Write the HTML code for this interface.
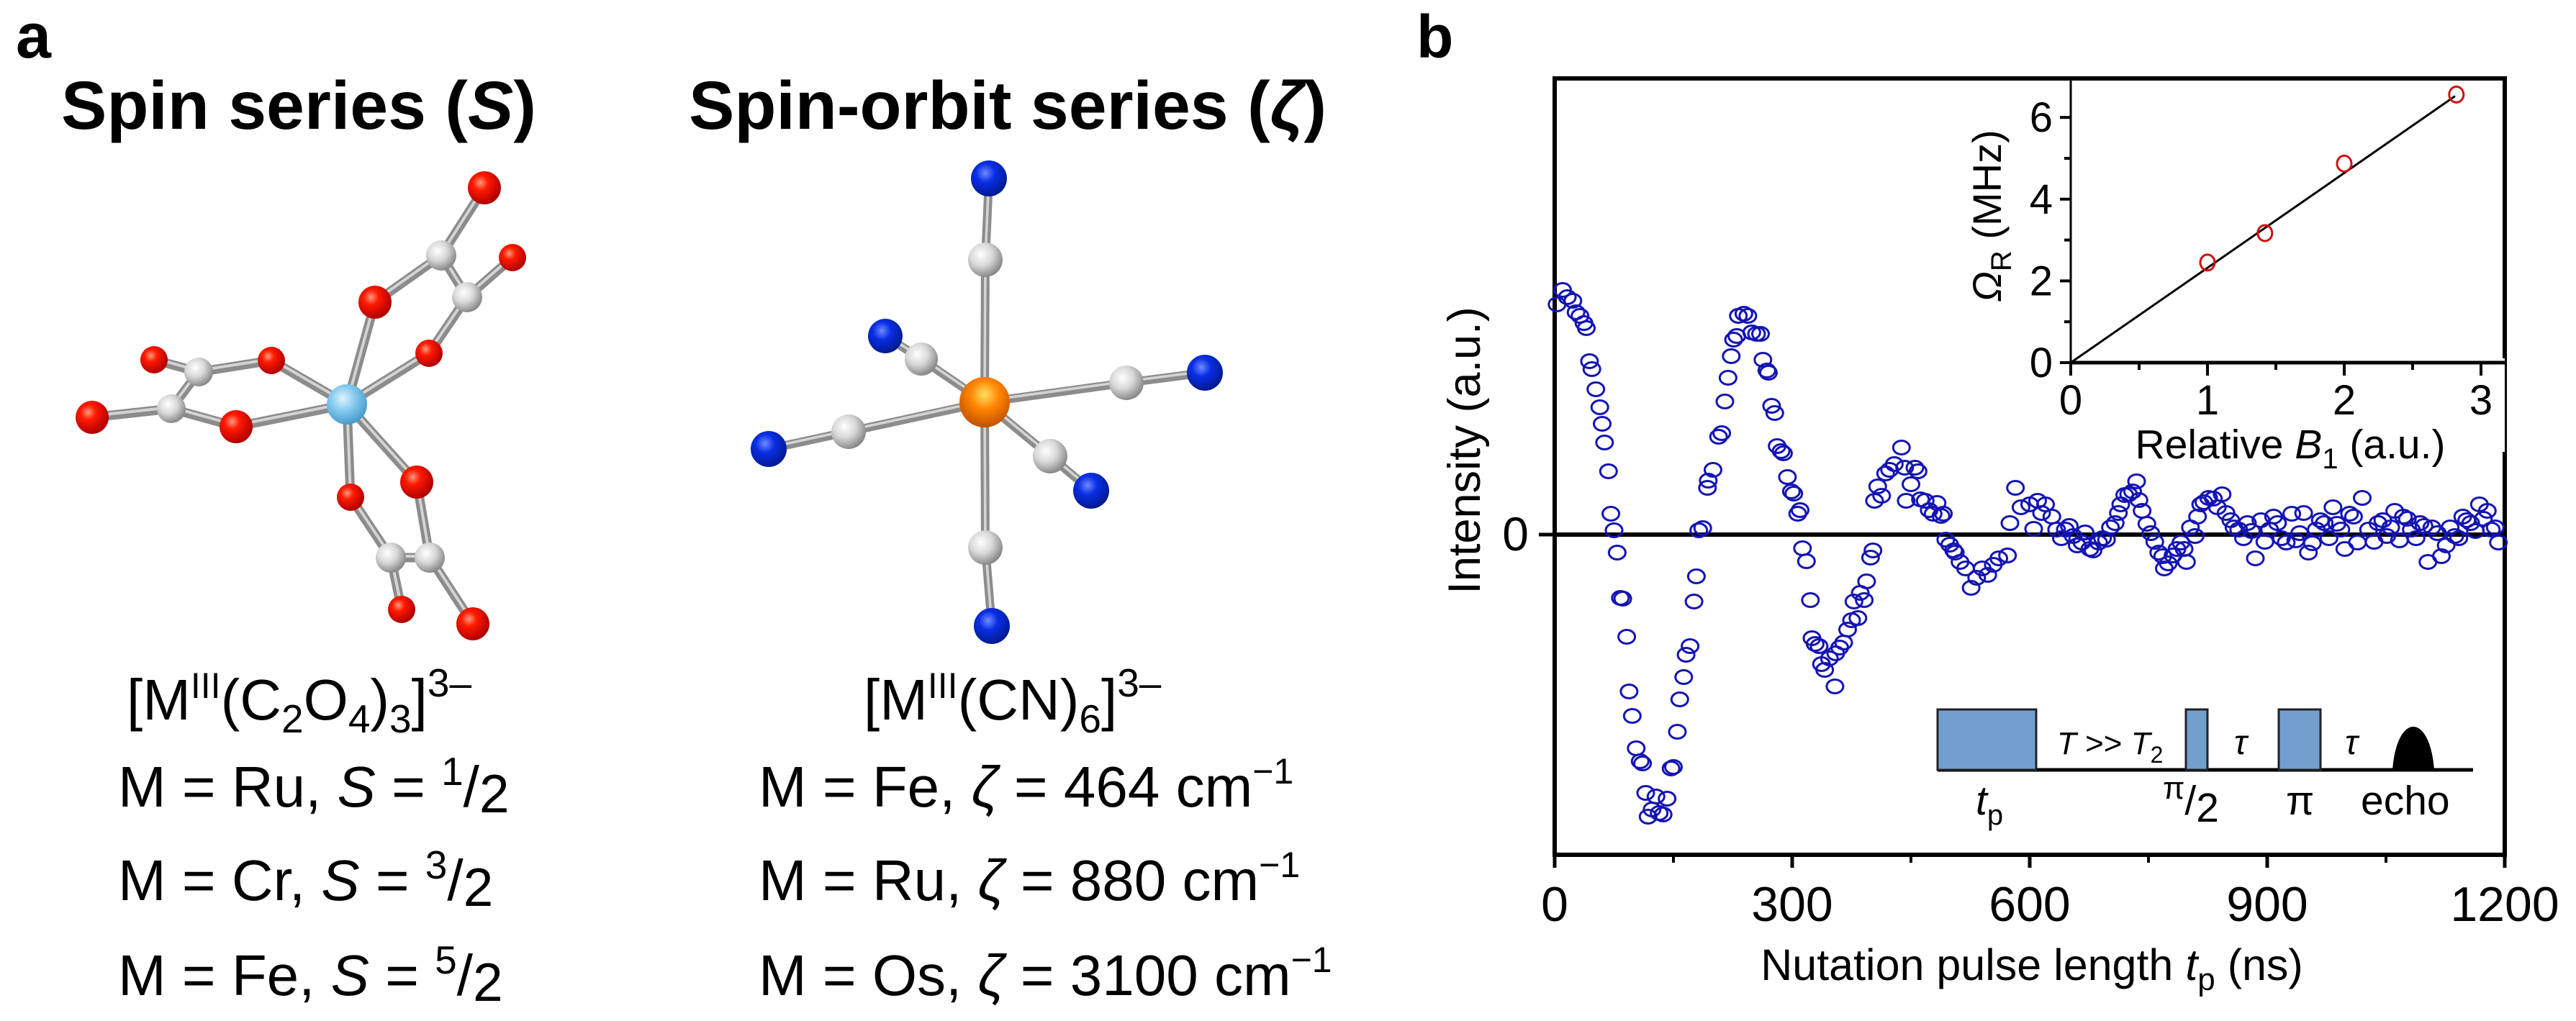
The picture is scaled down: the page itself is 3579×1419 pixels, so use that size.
<!DOCTYPE html>
<html>
<head>
<meta charset="utf-8">
<style>
html,body{margin:0;padding:0;background:#fff;}
svg{display:block;font-family:"Liberation Sans",Arial,sans-serif;}
</style>
</head>
<body>
<svg id="fig" xmlns="http://www.w3.org/2000/svg" width="3579" height="1419" viewBox="0 0 3579 1419">
<defs>
<radialGradient id="gO" cx="0.38" cy="0.35" r="0.65"><stop offset="0" stop-color="#ff9a80"/><stop offset="0.35" stop-color="#ff1a00"/><stop offset="1" stop-color="#b00000"/></radialGradient>
<radialGradient id="gC" cx="0.38" cy="0.35" r="0.65"><stop offset="0" stop-color="#ffffff"/><stop offset="0.5" stop-color="#d8d8d8"/><stop offset="1" stop-color="#8a8a8a"/></radialGradient>
<radialGradient id="gN" cx="0.4" cy="0.35" r="0.65"><stop offset="0" stop-color="#6f8cff"/><stop offset="0.4" stop-color="#0a2ee6"/><stop offset="1" stop-color="#001a90"/></radialGradient>
<radialGradient id="gRu" cx="0.4" cy="0.35" r="0.65"><stop offset="0" stop-color="#dff3ff"/><stop offset="0.5" stop-color="#80c8ee"/><stop offset="1" stop-color="#4a9ccc"/></radialGradient>
<radialGradient id="gFe" cx="0.5" cy="0.35" r="0.65"><stop offset="0" stop-color="#ffe060"/><stop offset="0.45" stop-color="#ff8400"/><stop offset="1" stop-color="#c05000"/></radialGradient>
</defs>

<!-- Panel a -->
<text x="22" y="80" font-size="88" font-weight="bold">a</text>
<text x="85" y="179" font-size="95" font-weight="bold">Spin series (<tspan font-style="italic">S</tspan>)</text>
<text x="957" y="179" font-size="95" font-weight="bold">Spin-orbit series (<tspan font-style="italic">ζ</tspan>)</text>

<g id="mol1"></g>
<g id="mol2"></g>

<g font-size="80">
<text x="176" y="1000">[M<tspan font-size="50" dy="-30">III</tspan><tspan dy="30">(C</tspan><tspan font-size="55" dy="18">2</tspan><tspan dy="-18">O</tspan><tspan font-size="55" dy="18">4</tspan><tspan dy="-18">)</tspan><tspan font-size="55" dy="18">3</tspan><tspan dy="-18">]</tspan><tspan font-size="55" dy="-32">3–</tspan></text>
<text x="164" y="1121">M = Ru, <tspan font-style="italic">S</tspan> = <tspan font-size="55" dy="-30">1</tspan><tspan dy="30">/</tspan><tspan font-size="75" dy="8">2</tspan></text>
<text x="164" y="1251">M = Cr,  <tspan font-style="italic">S</tspan> = <tspan font-size="55" dy="-30">3</tspan><tspan dy="30">/</tspan><tspan font-size="75" dy="8">2</tspan></text>
<text x="164" y="1383">M = Fe, <tspan font-style="italic">S</tspan> = <tspan font-size="55" dy="-30">5</tspan><tspan dy="30">/</tspan><tspan font-size="75" dy="8">2</tspan></text>
</g>
<g font-size="80">
<text x="1200" y="1000">[M<tspan font-size="50" dy="-30">III</tspan><tspan dy="30">(CN)</tspan><tspan font-size="55" dy="18">6</tspan><tspan dy="-18">]</tspan><tspan font-size="55" dy="-32">3–</tspan></text>
<text x="1054" y="1121">M = Fe, <tspan font-style="italic">ζ</tspan> = 464 cm<tspan font-size="50" dy="-32">−1</tspan></text>
<text x="1054" y="1251">M = Ru, <tspan font-style="italic">ζ</tspan> = 880 cm<tspan font-size="50" dy="-32">−1</tspan></text>
<text x="1054" y="1383">M = Os, <tspan font-style="italic">ζ</tspan> = 3100 cm<tspan font-size="50" dy="-32">−1</tspan></text>
</g>

<!-- Panel b -->
<text x="1968" y="80" font-size="84" font-weight="bold">b</text>
<g id="mainPlot"></g>
<g id="insetPlot"></g>

<text x="2823" y="1362" font-size="61" text-anchor="middle">Nutation pulse length <tspan font-style="italic">t</tspan><tspan font-size="44" dy="14">p</tspan><tspan dy="-14"> (ns)</tspan></text>
<text x="2056" y="626" font-size="63" text-anchor="middle" transform="rotate(-90 2056 626)">Intensity (a.u.)</text>
<text x="2780" y="300" font-size="56" text-anchor="middle" transform="rotate(-90 2780 300)"><tspan font-style="italic">Ω</tspan><tspan font-size="40" dy="14">R</tspan><tspan dy="-14"> (MHz)</tspan></text>
<text x="3182" y="637" font-size="57" text-anchor="middle">Relative <tspan font-style="italic">B</tspan><tspan font-size="40" dy="14">1</tspan><tspan dy="-14"> (a.u.)</tspan></text>

<g id="pulseSeq">
<line x1="2692" y1="1070" x2="3436" y2="1070" stroke="#000" stroke-width="5"/>
<rect x="2692" y="986" width="137" height="84" fill="#739fcf" stroke="#222" stroke-width="3"/>
<rect x="3037" y="986" width="30" height="84" fill="#739fcf" stroke="#222" stroke-width="3"/>
<rect x="3166" y="986" width="58" height="84" fill="#739fcf" stroke="#222" stroke-width="3"/>
<path d="M3324 1070 C3330 990 3376 990 3382 1070 Z" fill="#000"/>
<text x="2858" y="1048" font-size="44"><tspan font-style="italic">T</tspan> &gt;&gt; <tspan font-style="italic">T</tspan><tspan font-size="32" dy="12">2</tspan></text>
<text x="3104" y="1048" font-size="48" font-style="italic">τ</text>
<text x="3258" y="1048" font-size="48" font-style="italic">τ</text>
<text x="2745" y="1132" font-size="57"><tspan font-style="italic">t</tspan><tspan font-size="40" dy="14">p</tspan></text>
<text x="3005" y="1132" font-size="57"><tspan font-size="44" dy="-22">π</tspan><tspan dy="22">/</tspan><tspan dy="10">2</tspan></text>
<text x="3176" y="1132" font-size="57">π</text>
<text x="3280" y="1132" font-size="57">echo</text>
</g>

<script>
// ---------- main nutation data ----------
const pulseLengthNs = [3,10,16,23,27,32,37,40,44,47,52,57,60,63,68,71,75,79,83,86,91,94,98,103,108,111,115,118,123,128,132,137,142,147,150,155,158,163,166,171,176,179,182,187,193,194,200,207,211,215,219,223,226,230,232,239,244,249,255,260,263,268,270,274,278,281,286,289,294,299,302,307,310,313,318,323,325,329,334,337,341,347,354,355,360,365,370,375,378,383,386,391,394,399,402,404,408,413,418,423,429,438,442,444,450,455,459,462,468,473,478,483,488,491,494,499,504,506,512,519,526,533,540,547,554,561,572,575,582,589,600,605,610,615,620,628,634,640,645,650,655,660,666,670,676,680,687,692,697,702,708,712,715,720,725,730,735,738,742,748,753,758,763,768,770,775,781,786,791,795,798,803,809,812,816,820,826,832,837,843,848,854,858,864,870,875,880,885,892,897,903,908,913,918,924,931,936,941,946,952,957,962,967,972,978,983,988,993,998,1004,1009,1014,1020,1028,1035,1040,1046,1051,1056,1061,1067,1072,1077,1082,1088,1093,1098,1103,1108,1115,1120,1126,1131,1137,1142,1147,1152,1157,1163,1168,1173,1178,1183,1188,1192,1195];
const intensity = [320,340,330,325,309,304,294,287,241,230,202,177,154,128,88,29,6,-25,-88,-89,-142,-218,-252,-297,-315,-318,-359,-392,-382,-364,-387,-389,-367,-325,-323,-274,-229,-198,-167,-155,-93,-58,6,9,65,75,90,136,141,185,218,248,271,276,304,307,304,281,279,279,243,228,225,179,169,123,116,113,80,60,57,29,34,-19,-37,-91,-144,-152,-155,-180,-188,-172,-211,-165,-157,-150,-132,-119,-93,-116,-81,-91,-65,-32,-22,47,67,54,85,90,98,121,93,47,70,93,88,49,47,34,29,44,26,29,-7,-14,-22,-25,-38,-47,-74,-60,-47,-56,-42,-33,-29,16,65,38,42,8,47,30,42,25,7,-5,7,12,-2,-15,-11,3,-20,-22,-11,-5,-7,10,16,30,42,55,56,60,74,48,33,15,2,-10,-25,-30,-47,-40,-29,-20,-11,-20,-38,10,-2,25,42,45,51,50,38,56,30,20,10,7,-5,16,5,-33,20,-10,7,25,16,-5,-11,29,-8,2,30,-25,-12,7,20,16,-5,38,15,7,-20,29,25,-11,51,7,-10,16,20,-2,10,33,-8,25,22,7,-5,16,12,-38,10,2,-30,-15,10,-2,-5,25,20,16,5,42,22,33,7,10,-11];
const xTickValues = [0,300,600,900,1200];
const xTickLabels = ["0","300","600","900","1200"];
const xMinorTicks = [150,450,750,1050];

// ---------- inset data ----------
const relativeB1 = [1.0,1.42,2.0,2.82];
const rabiFreqMHz = [2.45,3.17,4.87,6.56];
const fitB1 = [0,2.81];
const fitFreq = [0,6.52];
const insetXTicks = [0,1,2,3];
const insetXMinor = [0.5,1.5,2.5];
const insetYTicks = [0,2,4,6];
const insetYMinor = [1,3,5];

const NS = "http://www.w3.org/2000/svg";
function mk(tag, attrs, parent){
  const e = document.createElementNS(NS, tag);
  for (const k in attrs) e.setAttribute(k, attrs[k]);
  parent.appendChild(e);
  return e;
}

// main axes
const X0 = 2160, X1 = 3480, Y0 = 743, TOP = 109, BOT = 1188;
function xMain(t){ return X0 + t * (X1 - X0) / 1200; }
function yMain(v){ return Y0 - v; }

const mp = document.getElementById('mainPlot');
let el;
el = mk('rect', {x:X0, y:TOP, width:X1-X0, height:BOT-TOP, fill:'none', stroke:'#000', 'stroke-width':6}, mp);


el = mk('line', {x1:X0, y1:yMain(0), x2:X1, y2:yMain(0), stroke:'#000', 'stroke-width':6}, mp);


el = mk('line', {x1:X0-22, y1:yMain(0), x2:X0, y2:yMain(0), stroke:'#000', 'stroke-width':5}, mp);


el = mk('text', {x:2124, y:yMain(0)+22, 'font-size':66, 'text-anchor':'end'}, mp);
el.textContent = '0';



xTickValues.forEach((t, i) => {
  const tk = mk('line', {x1:xMain(t), y1:BOT, x2:xMain(t), y2:BOT+18, stroke:'#000', 'stroke-width':5}, mp);
  
  
  const lb = mk('text', {x:xMain(t), y:1280, 'font-size':68, 'text-anchor':'middle'}, mp);
  lb.textContent = xTickLabels[i];
  
  
});
xMinorTicks.forEach(t => {
  const tk = mk('line', {x1:xMain(t), y1:BOT, x2:xMain(t), y2:BOT+11, stroke:'#000', 'stroke-width':4}, mp);
  
  
});

const nPts = Math.min(pulseLengthNs.length, intensity.length);
for (let i = 0; i < nPts; i++) {
  const p = mk('ellipse', {cx:xMain(pulseLengthNs[i]), cy:yMain(intensity[i]), rx:11.5, ry:9.5, fill:'none', stroke:'#1414b4', 'stroke-width':3}, mp);
  
  
}

// inset
const IX0 = 2877, IXS = 190, IY0 = 504, IYS = 56.8;
function xIn(b){ return IX0 + b * IXS; }
function yIn(f){ return IY0 - f * IYS; }
const ip = document.getElementById('insetPlot');
el = mk('rect', {x:IX0-10, y:IY0-6, width:X1-IX0+10, height:130, fill:'#fff'}, ip);


el = mk('line', {x1:IX0, y1:TOP, x2:IX0, y2:IY0, stroke:'#000', 'stroke-width':3}, ip);


el = mk('line', {x1:IX0, y1:IY0, x2:X1, y2:IY0, stroke:'#000', 'stroke-width':5}, ip);


insetXTicks.forEach(b => {
  const tk = mk('line', {x1:xIn(b), y1:IY0, x2:xIn(b), y2:IY0+18, stroke:'#000', 'stroke-width':4}, ip);
  
  
  const lb = mk('text', {x:xIn(b), y:576, 'font-size':58, 'text-anchor':'middle'}, ip);
  lb.textContent = String(b);
  
  
});
insetXMinor.forEach(b => {
  const tk = mk('line', {x1:xIn(b), y1:IY0, x2:xIn(b), y2:IY0+10, stroke:'#000', 'stroke-width':4}, ip);
  
  
});
insetYTicks.forEach(f => {
  const tk = mk('line', {x1:IX0-15, y1:yIn(f), x2:IX0, y2:yIn(f), stroke:'#000', 'stroke-width':4}, ip);
  
  
  const lb = mk('text', {x:2852, y:yIn(f)+20, 'font-size':58, 'text-anchor':'end'}, ip);
  lb.textContent = String(f);
  
  
});
insetYMinor.forEach(f => {
  const tk = mk('line', {x1:IX0-9, y1:yIn(f), x2:IX0, y2:yIn(f), stroke:'#000', 'stroke-width':4}, ip);
  
  
});
el = mk('line', {x1:xIn(fitB1[0]), y1:yIn(fitFreq[0]), x2:xIn(fitB1[1]), y2:yIn(fitFreq[1]), stroke:'#000', 'stroke-width':3}, ip);


relativeB1.forEach((b, i) => {
  const p = mk('ellipse', {cx:xIn(b), cy:yIn(rabiFreqMHz[i]), rx:10, ry:11, fill:'none', stroke:'#d01010', 'stroke-width':3}, ip);
  
  
});

// ---------- molecules (structural drawings) ----------
function drawMol(g, atoms, bonds, bw){
  bonds.forEach(b => {
    const a1 = atoms[b[0]], a2 = atoms[b[1]];
    const ln = mk('line', {x1:a1[0], y1:a1[1], x2:a2[0], y2:a2[1], stroke:'#8c8c8c', 'stroke-width':bw, 'stroke-linecap':'round'}, g);
    
    
    const hl = mk('line', {x1:a1[0], y1:a1[1]-2, x2:a2[0], y2:a2[1]-2, stroke:'#d4d4d4', 'stroke-width':bw*0.3}, g);
    
    
  });
  atoms.forEach(a => {
    const c = mk('circle', {cx:a[0], cy:a[1], r:a[2], fill:'url(#'+a[3]+')'}, g);
    
    
  });
}
const mol1Atoms = [
  [482,562,28,'gRu'],
  [673,261,23,'gO'],[613,355,21,'gC'],[712,358,19,'gO'],[649,413,21,'gC'],[521,420,23,'gO'],[596,491,19,'gO'],
  [377,501,19,'gO'],[276,517,20,'gC'],[214,500,19,'gO'],[238,568,20,'gC'],[128,580,23,'gO'],[328,593,23,'gO'],
  [579,670,23,'gO'],[487,691,19,'gO'],[543,775,21,'gC'],[597,775,21,'gC'],[558,847,19,'gO'],[657,867,23,'gO']
];
const mol1Bonds = [[0,5],[0,6],[0,7],[0,12],[0,13],[0,14],[5,2],[2,1],[2,4],[4,3],[4,6],[7,8],[8,9],[8,10],[10,11],[10,12],[14,15],[15,16],[15,17],[16,13],[16,18]];
drawMol(document.getElementById('mol1'), mol1Atoms, mol1Bonds, 13);

const mol2Atoms = [
  [1374,248,25,'gN'],[1369,361,24,'gC'],[1369,761,24,'gC'],[1378,870,25,'gN'],
  [1068,624,25,'gN'],[1179,600,24,'gC'],[1674,518,25,'gN'],[1565,532,24,'gC'],
  [1230,467,24,'gN'],[1280,499,23,'gC'],[1516,682,25,'gN'],[1459,634,24,'gC'],
  [1368,559,35,'gFe']
];
const mol2Bonds = [[12,1],[1,0],[12,2],[2,3],[12,5],[5,4],[12,7],[7,6],[12,9],[9,8],[12,11],[11,10]];
drawMol(document.getElementById('mol2'), mol2Atoms, mol2Bonds, 12);
</script>
</svg>
</body>
</html>
